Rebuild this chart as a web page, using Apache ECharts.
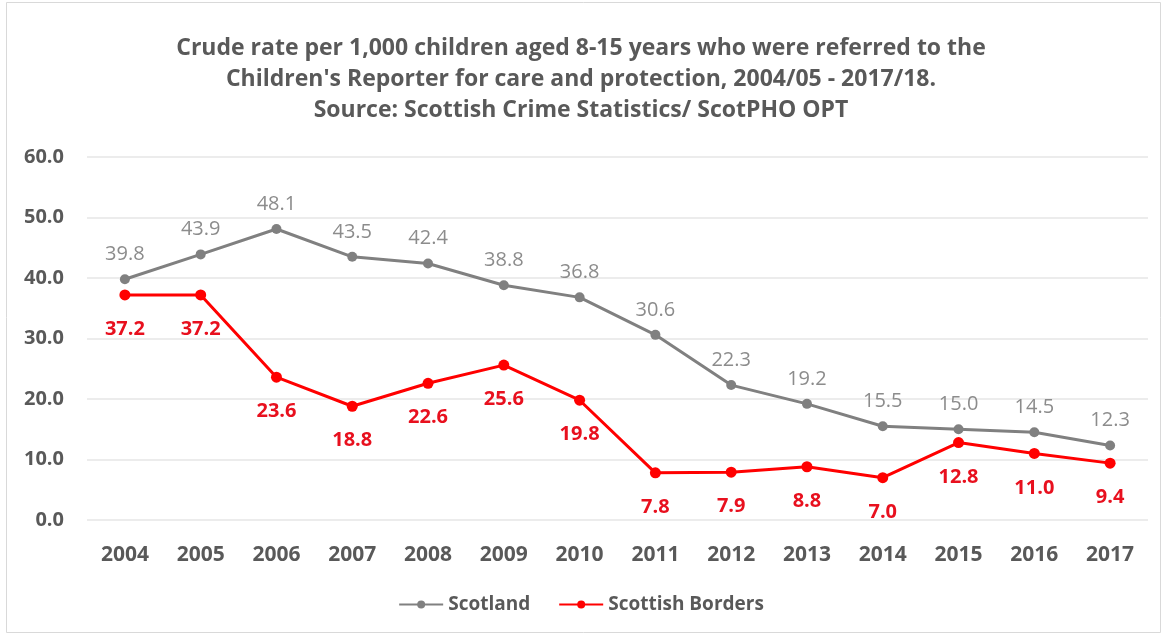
<!DOCTYPE html>
<html>
<head>
<meta charset="utf-8">
<script src="https://cdn.jsdelivr.net/npm/echarts@6/dist/echarts.min.js"></script>
<style>
  html, body { margin: 0; padding: 0; background: #fff; }
  #main { width: 1162px; height: 635px; }
</style>
</head>
<body>
<div id="main"></div>
<script>
// data
var years = ['2004','2005','2006','2007','2008','2009','2010','2011','2012','2013','2014','2015','2016','2017'];
var scotland = [39.8, 43.9, 48.1, 43.5, 42.4, 38.8, 36.8, 30.6, 22.3, 19.2, 15.5, 15.0, 14.5, 12.3];
var borders = [37.2, 37.2, 23.6, 18.8, 22.6, 25.6, 19.8, 7.8, 7.9, 8.8, 7.0, 12.8, 11.0, 9.4];

var font = '"Open Sans", sans-serif';
var myChart = echarts.init(document.getElementById('main'));

var option = {
    animation: false,
    backgroundColor: '#fff',
    textStyle: { fontFamily: font },
    // outer frame
    graphic: [{
        type: 'rect',
        shape: { x: 6.5, y: 2.5, width: 1154, height: 630 },
        style: { fill: 'none', stroke: '#d9d9d9', lineWidth: 1 },
        silent: true
    }],
    title: {
        left: 'center',
        top: 28,
        text: "Crude rate per 1,000 children aged 8-15 years who were referred to the\nChildren's Reporter for care and protection, 2004/05 - 2017/18.\nSource: Scottish Crime Statistics/ ScotPHO OPT",
        textStyle: {
            fontFamily: font,
            fontSize: 23,
            fontWeight: 'bold',
            color: '#595959',
            lineHeight: 31
        }
    },
    legend: {
        bottom: 16,
        left: 'center',
        itemWidth: 44,
        itemHeight: 10,
        itemGap: 28,
        textStyle: { fontFamily: font, fontSize: 19, color: '#595959', fontWeight: 'bold' },
        data: ['Scotland', 'Scottish Borders']
    },
    grid: { left: 87, right: 14, top: 157, bottom: 115 },
    xAxis: {
        type: 'category',
        data: years,
        boundaryGap: true,
        axisLine: { show: false },
        axisTick: { show: false },
        axisLabel: { fontFamily: font, fontSize: 21, fontWeight: 'bold', color: '#595959', margin: 25 }
    },
    yAxis: {
        type: 'value',
        min: 0,
        max: 60,
        interval: 10,
        axisLine: { show: false },
        axisTick: { show: false },
        splitLine: { lineStyle: { color: '#e6e6e6', width: 1.5 } },
        axisLabel: {
            fontFamily: font, fontSize: 20, fontWeight: 'bold', color: '#595959', margin: 23,
            formatter: function (v) { return v.toFixed(1); }
        }
    },
    series: [{
        name: 'Scotland',
        type: 'line',
        data: scotland,
        symbol: 'circle',
        symbolSize: 10,
        color: '#808080',
        lineStyle: { width: 3, color: '#808080' },
        itemStyle: { color: '#808080' },
        label: {
            show: true,
            position: 'top',
            distance: 10,
            fontFamily: font,
            fontSize: 20,
            color: '#8c8c8c',
            formatter: function (p) { return p.value.toFixed(1); }
        },
        z: 2
    }, {
        name: 'Scottish Borders',
        type: 'line',
        data: borders,
        symbol: 'circle',
        symbolSize: 11,
        color: '#ff0000',
        lineStyle: { width: 3, color: '#ff0000' },
        itemStyle: { color: '#ff0000' },
        label: {
            show: true,
            position: 'bottom',
            distance: 19,
            fontFamily: font,
            fontSize: 20,
            fontWeight: 'bold',
            color: '#e8101e',
            formatter: function (p) { return p.value.toFixed(1); }
        },
        z: 3
    }]
};

myChart.setOption(option);
</script>
</body>
</html>
